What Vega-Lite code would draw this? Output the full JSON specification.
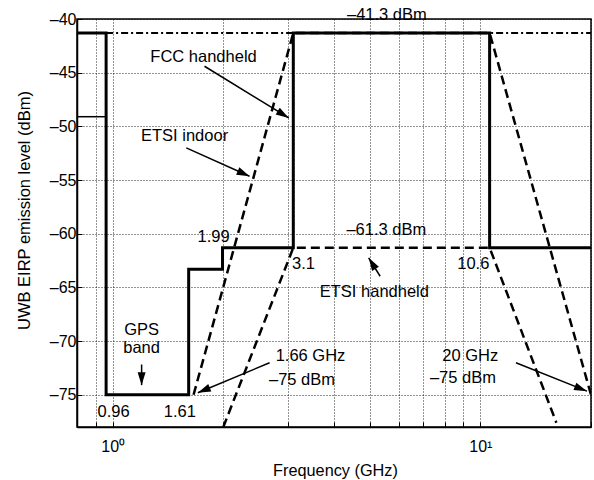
{
  "$schema": "https://vega.github.io/schema/vega-lite/v6.json",
  "width": 514,
  "height": 408,
  "autosize": {"type": "none"},
  "padding": {"left": 77, "top": 19, "right": 3, "bottom": 53},
  "background": "white",
  "config": {
    "view": {"stroke": "black", "strokeWidth": 1.5},
    "font": "Liberation Sans",
    "text": {"font": "Liberation Sans"},
    "axis": {"grid": true, "gridColor": "black", "gridOpacity": 0.85, "gridDash": [1, 2], "gridWidth": 1}
  },
  "datasets": {
    "masks": [
      {"series": "FCC handheld", "i": 0, "f": 0.8, "level": -41.3},
      {"series": "FCC handheld", "i": 1, "f": 0.96, "level": -41.3},
      {"series": "FCC handheld", "i": 2, "f": 0.96, "level": -75},
      {"series": "FCC handheld", "i": 3, "f": 1.61, "level": -75},
      {"series": "FCC handheld", "i": 4, "f": 1.61, "level": -63.3},
      {"series": "FCC handheld", "i": 5, "f": 1.99, "level": -63.3},
      {"series": "FCC handheld", "i": 6, "f": 1.99, "level": -61.3},
      {"series": "FCC handheld", "i": 7, "f": 3.1, "level": -61.3},
      {"series": "FCC handheld", "i": 8, "f": 3.1, "level": -41.3},
      {"series": "FCC handheld", "i": 9, "f": 10.6, "level": -41.3},
      {"series": "FCC handheld", "i": 10, "f": 10.6, "level": -61.3},
      {"series": "FCC handheld", "i": 11, "f": 20, "level": -61.3},
      {"series": "Below 0.96 GHz", "i": 0, "f": 0.8, "level": -49.1},
      {"series": "Below 0.96 GHz", "i": 1, "f": 0.96, "level": -49.1},
      {"series": "Upper limit", "i": 0, "f": 0.96, "level": -41.3},
      {"series": "Upper limit", "i": 1, "f": 20, "level": -41.3},
      {"series": "ETSI indoor", "i": 0, "f": 1.66, "level": -75},
      {"series": "ETSI indoor", "i": 1, "f": 3.1, "level": -41.3},
      {"series": "ETSI indoor", "i": 2, "f": 10.6, "level": -41.3},
      {"series": "ETSI indoor", "i": 3, "f": 20, "level": -75},
      {"series": "ETSI handheld", "i": 0, "f": 2.0, "level": -78},
      {"series": "ETSI handheld", "i": 1, "f": 3.1, "level": -61.3},
      {"series": "ETSI handheld", "i": 2, "f": 10.6, "level": -61.3},
      {"series": "ETSI handheld", "i": 3, "f": 16.1, "level": -77.6}
    ],
    "notes": [
      {"label": "–41.3 dBm", "f": 5.57, "level": -39.59},
      {"label": "FCC handheld", "f": 1.767, "level": -43.5},
      {"label": "ETSI indoor", "f": 1.569, "level": -50.86},
      {"label": "1.99", "f": 1.881, "level": -60.26},
      {"label": "3.1", "f": 3.304, "level": -62.8},
      {"label": "10.6", "f": 9.57, "level": -62.8},
      {"label": "–61.3 dBm", "f": 5.55, "level": -59.61},
      {"label": "ETSI handheld", "f": 5.15, "level": -65.41},
      {"label": "GPS", "f": 1.199, "level": -68.92},
      {"label": "band", "f": 1.199, "level": -70.64},
      {"label": "0.96", "f": 1.006, "level": -76.58},
      {"label": "1.61", "f": 1.524, "level": -76.58},
      {"label": "1.66 GHz", "f": 3.452, "level": -71.41},
      {"label": "–75 dBm", "f": 3.273, "level": -73.58},
      {"label": "20 GHz", "f": 9.39, "level": -71.41},
      {"label": "–75 dBm", "f": 8.97, "level": -73.48}
    ],
    "arrows": [
      {"id": "A", "f_tail": 1.778, "level_tail": -44.4, "f": 3.013, "level": -49.21},
      {"id": "B", "f_tail": 1.586, "level_tail": -52.0, "f": 2.357, "level": -54.65},
      {"id": "C", "f_tail": 2.672, "level_tail": -72.02, "f": 1.705, "level": -74.81},
      {"id": "D", "f_tail": 12.5, "level_tail": -72.02, "f": 19.5, "level": -74.66},
      {"id": "E", "f_tail": 5.34, "level_tail": -63.96, "f": 4.97, "level": -62.24},
      {"id": "F", "f_tail": 1.199, "level_tail": -72.18, "f": 1.199, "level": -74.1}
    ]
  },
  "encoding": {
    "x": {
      "field": "f", "type": "quantitative",
      "scale": {"type": "log", "domain": [0.8, 20], "nice": false, "zero": false},
      "axis": {
        "title": "Frequency (GHz)",
        "values": [0.8, 0.9, 1, 2, 3, 4, 5, 6, 7, 8, 9, 10, 20],
        "labelExpr": "datum.value == 1 ? '10⁰' : (datum.value == 10 ? '10¹' : '')",
        "labelFont": "Liberation Sans", "labelFontSize": 16, "labelColor": "black",
        "labelBaseline": "alphabetic", "labelPadding": 29, "labelFlush": false, "labelOverlap": false,
        "ticks": true, "tickSize": -5, "tickColor": "black", "tickWidth": 1,
        "domainColor": "black", "domainWidth": 1.5,
        "grid": true,
        "titleFont": "Liberation Sans", "titleFontSize": 16.3, "titleFontWeight": "normal", "titleColor": "black",
        "titleX": 258, "titleY": 48.5, "titleBaseline": "alphabetic", "titleAlign": "center"
      }
    },
    "y": {
      "field": "level", "type": "quantitative",
      "scale": {"domain": [-78, -40], "nice": false, "zero": false},
      "axis": {
        "title": "UWB EIRP emission level (dBm)",
        "values": [-75, -70, -65, -60, -55, -50, -45, -40],
        "labelExpr": "'–' + (-datum.value)",
        "labelFont": "Liberation Sans", "labelFontSize": 16, "labelColor": "black",
        "labelPadding": 6, "labelFlush": false, "labelOverlap": false,
        "ticks": true, "tickSize": -5, "tickColor": "black", "tickWidth": 1,
        "domainColor": "black", "domainWidth": 1.5,
        "grid": true,
        "titleFont": "Liberation Sans", "titleFontSize": 16.5, "titleFontWeight": "normal", "titleColor": "black",
        "titleAngle": -90, "titleX": -53, "titleY": 191, "titleAlign": "center", "titleBaseline": "middle"
      }
    }
  },
  "layer": [
    {
      "data": {"name": "masks"},
      "transform": [{"filter": "datum.series == 'Upper limit'"}],
      "mark": {"type": "line", "color": "black", "strokeWidth": 2, "strokeDash": [7, 3, 2, 3], "clip": true},
      "encoding": {"order": {"field": "i", "type": "quantitative"}}
    },
    {
      "data": {"name": "masks"},
      "transform": [{"filter": "datum.series == 'ETSI indoor' || datum.series == 'ETSI handheld'"}],
      "mark": {"type": "line", "color": "black", "strokeWidth": 2.5, "strokeDash": [9, 5], "clip": true},
      "encoding": {
        "detail": {"field": "series"},
        "order": {"field": "i", "type": "quantitative"}
      }
    },
    {
      "data": {"name": "masks"},
      "transform": [{"filter": "datum.series == 'Below 0.96 GHz'"}],
      "mark": {"type": "line", "color": "black", "strokeWidth": 1.5, "clip": true},
      "encoding": {"order": {"field": "i", "type": "quantitative"}}
    },
    {
      "data": {"name": "masks"},
      "transform": [{"filter": "datum.series == 'FCC handheld'"}],
      "mark": {"type": "line", "color": "black", "strokeWidth": 3, "strokeJoin": "miter", "clip": true},
      "encoding": {"order": {"field": "i", "type": "quantitative"}}
    },
    {
      "data": {"name": "arrows"},
      "mark": {"type": "rule", "color": "black", "strokeWidth": 1.5},
      "encoding": {
        "x2": {"field": "f_tail"},
        "y2": {"field": "level_tail"}
      }
    },
    {
      "data": {"name": "arrows"},
      "transform": [{"filter": "datum.id == 'A'"}],
      "mark": {"type": "point", "filled": true, "color": "black", "opacity": 1, "size": 196, "angle": 121.5, "shape": "M0,0L-0.57,1.85L0.57,1.85Z"}
    },
    {
      "data": {"name": "arrows"},
      "transform": [{"filter": "datum.id == 'B'"}],
      "mark": {"type": "point", "filled": true, "color": "black", "opacity": 1, "size": 196, "angle": 114.2, "shape": "M0,0L-0.57,1.85L0.57,1.85Z"}
    },
    {
      "data": {"name": "arrows"},
      "transform": [{"filter": "datum.id == 'C'"}],
      "mark": {"type": "point", "filled": true, "color": "black", "opacity": 1, "size": 196, "angle": 247.3, "shape": "M0,0L-0.57,1.85L0.57,1.85Z"}
    },
    {
      "data": {"name": "arrows"},
      "transform": [{"filter": "datum.id == 'D'"}],
      "mark": {"type": "point", "filled": true, "color": "black", "opacity": 1, "size": 196, "angle": 111.8, "shape": "M0,0L-0.57,1.85L0.57,1.85Z"}
    },
    {
      "data": {"name": "arrows"},
      "transform": [{"filter": "datum.id == 'E'"}],
      "mark": {"type": "point", "filled": true, "color": "black", "opacity": 1, "size": 196, "angle": 328.2, "shape": "M0,0L-0.57,1.85L0.57,1.85Z"}
    },
    {
      "data": {"name": "arrows"},
      "transform": [{"filter": "datum.id == 'F'"}],
      "mark": {"type": "point", "filled": true, "color": "black", "opacity": 1, "size": 196, "angle": 180, "shape": "M0,0L-0.57,1.85L0.57,1.85Z"}
    },
    {
      "data": {"name": "notes"},
      "mark": {"type": "text", "font": "Liberation Sans", "fontSize": 16.5, "color": "black", "align": "center", "baseline": "middle"},
      "encoding": {"text": {"field": "label"}}
    }
  ]
}
